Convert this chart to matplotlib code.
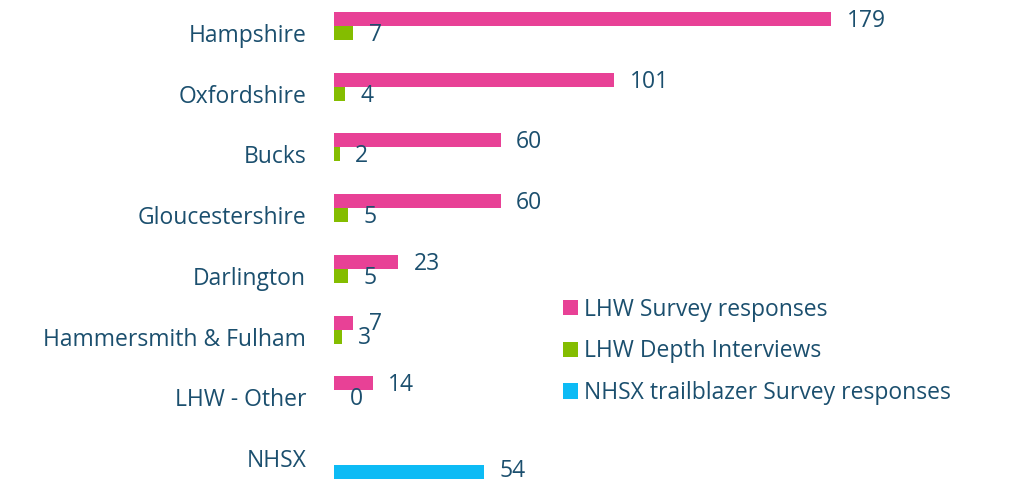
import matplotlib.pyplot as plt
import numpy as np

categories = ['Hampshire', 'Oxfordshire', 'Bucks', 'Gloucestershire', 'Darlington',
              'Hammersmith & Fulham', 'LHW - Other', 'NHSX']
survey = [179, 101, 60, 60, 23, 7, 14, None]
depth = [7, 4, 2, 5, 5, 3, 0, None]
nhsx = [None, None, None, None, None, None, None, 54]
series_names = ['LHW Survey responses', 'LHW Depth Interviews', 'NHSX trailblazer Survey responses']
colors = ['#E84196', '#84BD00', '#0DBBF5']
text_color = '#1B4F6E'

plt.rcParams['font.family'] = ['Open Sans', 'DejaVu Sans']
fs = 16.5

W, H = 1010, 482
fig = plt.figure(figsize=(W / 100, H / 100), dpi=100)
# axes placed in pixel terms: x=0 at 334px, 179 at 831px; row 0 at 33px, spacing ~60.7px
row = 60.7
top_px, bot_px = 33 - 0.5 * row, H
ax = fig.add_axes([334 / W, 1 - bot_px / H, (831 - 334) / W, (bot_px - top_px) / H])
ax.set_xlim(0, 179)
ax.set_ylim(7 + (bot_px - 458) / row, -0.5)

y = np.arange(len(categories))
h = 0.23
for k, (vals, off) in enumerate([(survey, -h), (depth, 0), (nhsx, h)]):
    idx = [i for i, v in enumerate(vals) if v is not None]
    v = [vals[i] for i in idx]
    ax.barh(y[idx] + off, v, height=h, color=colors[k], label=series_names[k])
    for i, val in zip(idx, v):
        dy = 0.03 if k < 2 else -0.02
        ax.text(val + 5.6, y[i] + off + dy, str(val), va='center', ha='left',
                fontsize=fs, color=text_color, clip_on=False)

ax.set_yticks(y)
ax.set_yticklabels(categories, fontsize=fs, color=text_color)
ax.tick_params(axis='y', length=0, pad=20)
ax.set_xticks([])
for s in ax.spines.values():
    s.set_visible(False)

leg = fig.legend(loc='upper left', bbox_to_anchor=(542 / W, 1 - 277 / H), frameon=False,
                 fontsize=fs, handlelength=0.65, handleheight=0.65, handletextpad=0.3,
                 labelspacing=0.77, labelcolor=text_color)

fig.savefig('out.png', dpi=100)
